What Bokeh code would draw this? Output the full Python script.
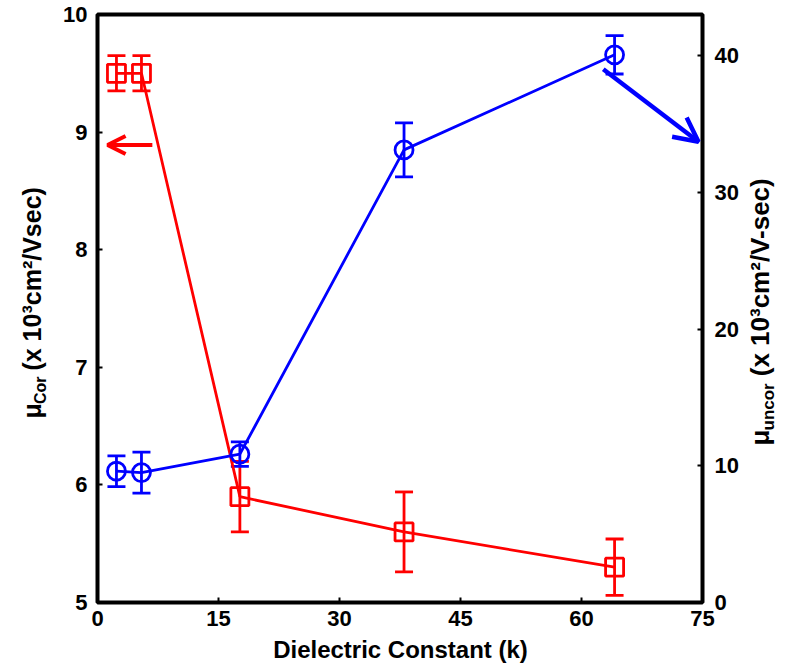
import math
from bokeh.plotting import figure
from bokeh.layouts import row, column
from bokeh.models import (Range1d, LinearAxis, ColumnDataSource, Whisker, TeeHead,
                          Arrow, OpenHead, FixedTicker)
from bokeh.core.properties import value
from bokeh.embed import file_html
from bokeh.resources import INLINE

# ---- data ----
k_values = [2.35, 5.45, 17.65, 38.0, 64.1]
mu_cor = [9.5, 9.5, 5.9, 5.6, 5.3]
mu_cor_err = [0.15, 0.15, 0.3, 0.34, 0.24]
mu_uncor = [9.6, 9.5, 10.85, 33.1, 40.05]
mu_uncor_err = [1.12, 1.5, 0.9, 1.97, 1.4]
x_ticks = [0, 15, 30, 45, 60, 75]
left_ticks = [5, 6, 7, 8, 9, 10]
right_ticks = [0, 10, 20, 30, 40]

# arrow annotations (data coordinates)
red_arrow = dict(x_start=6.8, y_start=8.89, x_end=1.25, y_end=8.89)
blue_arrow = dict(x_start=62.7, y_start=39.0, x_end=74.5, y_end=33.7)

RED = "#ff0000"
BLUE = "#0000ff"
FONT = "Liberation Sans"
NBSP = "\u00a0"

MAIN_W, MAIN_H = 684, 636
LEFT_W, RIGHT_W = 58, 36
BOTTOM_H = 27
FRAME_H = 588  # plot-area height shared by the row (frames are aligned)

p = figure(width=MAIN_W, height=MAIN_H, x_range=Range1d(0, 75), y_range=Range1d(5, 10),
           output_backend="svg", toolbar_location=None,
           min_border_left=39, min_border_right=40, min_border_top=14, min_border_bottom=34)
p.extra_y_ranges = {"r": Range1d(0, 43.0)}
p.grid.visible = False
p.outline_line_color = "black"
p.outline_line_width = 4

right_axis = LinearAxis(y_range_name="r")
p.add_layout(right_axis, "right")

for ax, ticks in ((p.xaxis[0], x_ticks), (p.yaxis[0], left_ticks), (right_axis, right_ticks)):
    ax.ticker = FixedTicker(ticks=ticks)
    ax.axis_line_color = None
    ax.major_tick_in = 5
    ax.major_tick_out = 0
    ax.major_tick_line_width = 2
    ax.minor_tick_line_color = None
    ax.major_label_text_font = FONT
    ax.major_label_text_font_style = "bold"
    ax.major_label_text_font_size = "22px"
    ax.major_label_text_color = "black"
p.xaxis[0].major_label_standoff = 8
p.yaxis[0].major_label_standoff = 10
right_axis.major_label_standoff = 12

src_c = ColumnDataSource(dict(x=k_values, y=mu_cor,
                              lo=[v - e for v, e in zip(mu_cor, mu_cor_err)],
                              hi=[v + e for v, e in zip(mu_cor, mu_cor_err)]))
src_u = ColumnDataSource(dict(x=k_values, y=mu_uncor,
                              lo=[v - e for v, e in zip(mu_uncor, mu_uncor_err)],
                              hi=[v + e for v, e in zip(mu_uncor, mu_uncor_err)]))

LW = 2.8
# red (corrected, left axis)
p.line("x", "y", source=src_c, line_color=RED, line_width=LW)
p.add_layout(Whisker(base="x", lower="lo", upper="hi", source=src_c, dimension="height",
                     line_color=RED, line_width=LW,
                     upper_head=TeeHead(size=18, line_color=RED, line_width=LW),
                     lower_head=TeeHead(size=18, line_color=RED, line_width=LW)))
p.scatter("x", "y", source=src_c, marker="square", size=18, fill_color=None,
          line_color=RED, line_width=LW)

# blue (uncorrected, right axis)
p.line("x", "y", source=src_u, line_color=BLUE, line_width=LW, y_range_name="r")
p.add_layout(Whisker(base="x", lower="lo", upper="hi", source=src_u, dimension="height",
                     y_range_name="r", line_color=BLUE, line_width=LW,
                     upper_head=TeeHead(size=18, line_color=BLUE, line_width=LW),
                     lower_head=TeeHead(size=18, line_color=BLUE, line_width=LW)))
p.scatter("x", "y", source=src_u, marker="circle", size=18, fill_color=None,
          line_color=BLUE, line_width=LW, y_range_name="r")

# arrows
p.add_layout(Arrow(end=OpenHead(size=18, line_color=RED, line_width=4),
                   line_color=RED, line_width=4, **red_arrow))
p.add_layout(Arrow(end=OpenHead(size=24, line_color=BLUE, line_width=4.5),
                   line_color=BLUE, line_width=4.5, y_range_name="r", **blue_arrow))


def text_fig(w, h, frame_h):
    f = figure(width=w, height=h, x_range=Range1d(0, w), y_range=Range1d(0, frame_h),
               x_axis_type=None, y_axis_type=None,
               output_backend="svg", toolbar_location=None, min_border=0)
    f.grid.visible = False
    f.outline_line_color = None
    return f


def put(f, s, x, y, size, angle=0.0, align="left"):
    f.text(x=[x], y=[y], text=[s], angle=angle, text_align=align,
           text_baseline="alphabetic", text_font=value(FONT), text_font_style="bold",
           text_font_size=size, text_color="black")


A = math.pi / 2
# left axis title (y measured up from the plot-area bottom)
fl = text_fig(LEFT_W, MAIN_H, FRAME_H)
put(fl, "μ", 31.5, 184, "25px", A)
put(fl, "Cor", 40, 198.5, "16px", A)
put(fl, NBSP + "(x 10³cm²/Vsec)", 31.5, 225, "25px", A)

# right axis title
fr = text_fig(RIGHT_W, MAIN_H, FRAME_H)
put(fr, "μ", 17, 157, "26px", A)
put(fr, "uncor", 25.5, 172, "17px", A)
put(fr, NBSP + "(x 10³cm²/V-sec)", 17, 219, "26px", A)

# x axis title
fb = text_fig(LEFT_W + MAIN_W + RIGHT_W, BOTTOM_H, BOTTOM_H)
put(fb, "Dielectric Constant (k)", 400, 14, "24px", 0.0, "center")

layout = column(row(fl, p, fr, spacing=0), fb, spacing=0)
open("out.html", "w").write(file_html(layout, INLINE))
